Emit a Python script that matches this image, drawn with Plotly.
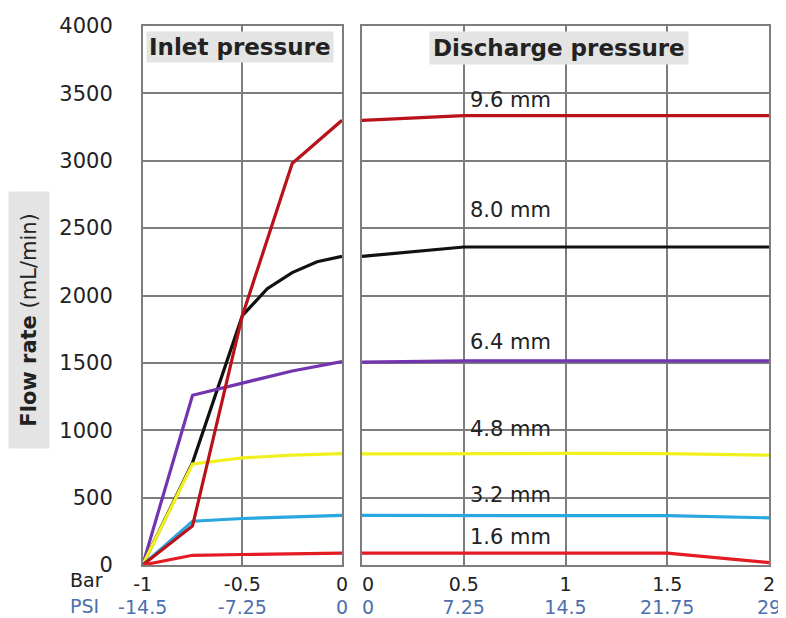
import plotly.graph_objects as go

# ---------------- data ----------------
size_labels = ["1.6 mm", "3.2 mm", "4.8 mm", "6.4 mm", "8.0 mm", "9.6 mm"]
line_colors = ["#e31b23", "#2aa7df", "#f0f01e", "#7334b0", "#111111", "#b8121b"]

# Inlet pressure (bar)
inlet_x = [-1, -0.75, -0.5, -0.25, 0]
inlet_x_8mm = [-1, -0.75, -0.5, -0.375, -0.25, -0.125, 0]
inlet_16 = [0, 72, 78, 84, 88]
inlet_32 = [0, 325, 345, 355, 368]
inlet_48 = [0, 750, 795, 815, 827]
inlet_64 = [0, 1260, 1350, 1440, 1510]
inlet_80 = [0, 760, 1850, 2050, 2170, 2250, 2290]
inlet_96 = [0, 290, 1850, 2980, 3300]

# Discharge pressure (bar)
disch_x = [0, 0.5, 1, 1.5, 2]
disch_16 = [88, 88, 88, 88, 18]
disch_32 = [368, 368, 368, 366, 350]
disch_48 = [825, 828, 828, 826, 815]
disch_64 = [1505, 1515, 1515, 1515, 1515]
disch_80 = [2290, 2360, 2360, 2360, 2360]
disch_96 = [3300, 3335, 3335, 3335, 3335]

# size-label vertical positions (flow-rate units)
label_y = [209, 522, 1007, 1657, 2634, 3448]

# tick labels
inlet_bar_ticks = [-1, -0.5, 0]
inlet_bar_text = ["-1", "-0.5", "0"]
inlet_psi_text = ["-14.5", "-7.25", "0"]
disch_bar_ticks = [0, 0.5, 1, 1.5, 2]
disch_bar_text = ["&nbsp;&nbsp;0", "0.5", "1", "1.5", "2"]
disch_psi_text = ["&nbsp;&nbsp;0", "7.25", "14.5", "21.75", "29"]
y_ticks = [0, 500, 1000, 1500, 2000, 2500, 3000, 3500, 4000]

# ---------------- figure ----------------
OFF = 8                      # page body margin
W, H = 786 - OFF, 618 - OFF
FONT = "DejaVu Sans"
GRID = "#7d7d7d"
TXT = "#222222"
PSI_COL = "#4d6fae"
XT = 19

def px_x(p):
    return (p - OFF) / W

def px_y(p):
    return 1 - (p - OFF) / H

fig = go.Figure()

inlet_series = [
    (inlet_x, inlet_16), (inlet_x, inlet_32), (inlet_x, inlet_48),
    (inlet_x, inlet_64), (inlet_x_8mm, inlet_80), (inlet_x, inlet_96),
]
disch_series = [disch_16, disch_32, disch_48, disch_64, disch_80, disch_96]

draw_order = [4, 3, 2, 1, 5, 0]
for i in draw_order:
    xs, ys = inlet_series[i]
    fig.add_trace(go.Scatter(x=xs, y=ys, mode="lines", xaxis="x", yaxis="y",
                             line=dict(color=line_colors[i], width=3.2),
                             name=size_labels[i], showlegend=False))
for i in draw_order:
    fig.add_trace(go.Scatter(x=disch_x, y=disch_series[i], mode="lines",
                             xaxis="x2", yaxis="y2",
                             line=dict(color=line_colors[i], width=3.2),
                             name=size_labels[i], showlegend=False))

ydom = [px_y(565), px_y(26)]
xdom1 = [px_x(142.7), px_x(342)]
xdom2 = [px_x(362), px_x(769)]

axis_common = dict(showline=True, mirror=True, linecolor=GRID, linewidth=1.5,
                   showgrid=True, gridcolor=GRID, gridwidth=1.5, zeroline=False,
                   automargin=False)

fig.update_layout(
    width=W, height=H,
    margin=dict(l=0, r=0, t=0, b=0, pad=0),
    paper_bgcolor="white", plot_bgcolor="white",
    font=dict(family=FONT, size=21, color=TXT),
    showlegend=False,
    xaxis=dict(domain=xdom1, range=[-1, 0], anchor="y",
               tickvals=inlet_bar_ticks, ticktext=inlet_bar_text,
               tickfont=dict(size=XT, color=TXT), ticks="",
               ticklabelstandoff=1, **axis_common),
    xaxis2=dict(domain=xdom2, range=[0, 2], anchor="y2",
                tickvals=disch_bar_ticks, ticktext=disch_bar_text,
                tickfont=dict(size=XT, color=TXT), ticks="",
                ticklabelstandoff=1, **axis_common),
    xaxis3=dict(overlaying="x", anchor="free", position=px_y(594),
                range=[-1, 0], tickvals=inlet_bar_ticks, ticktext=inlet_psi_text,
                tickfont=dict(size=XT, color=PSI_COL), ticks="", automargin=False,
                showgrid=False, showline=False, zeroline=False, side="bottom"),
    xaxis4=dict(overlaying="x2", anchor="free", position=px_y(594),
                range=[0, 2], tickvals=disch_bar_ticks, ticktext=disch_psi_text,
                tickfont=dict(size=XT, color=PSI_COL), ticks="", automargin=False,
                showgrid=False, showline=False, zeroline=False, side="bottom"),
    yaxis=dict(domain=ydom, range=[0, 4000], anchor="x",
               tickvals=y_ticks, tickfont=dict(size=21, color=TXT),
               ticks="outside", ticklen=24, tickcolor="rgba(0,0,0,0)",
               **axis_common),
    yaxis2=dict(domain=ydom, range=[0, 4000], anchor="x2",
                tickvals=y_ticks, showticklabels=False, **axis_common),
)

# invisible traces so the PSI axes render
fig.add_trace(go.Scatter(x=[-1, 0], y=[None, None], xaxis="x3", yaxis="y",
                         mode="lines", showlegend=False, hoverinfo="skip"))
fig.add_trace(go.Scatter(x=[0, 2], y=[None, None], xaxis="x4", yaxis="y2",
                         mode="lines", showlegend=False, hoverinfo="skip"))

annotations = []
# panel titles
annotations.append(dict(text="<b>Inlet pressure</b>", xref="paper", yref="paper",
                        x=px_x(146), y=px_y(47), xanchor="left", yanchor="middle",
                        showarrow=False, bgcolor="#e4e4e4", borderpad=2,
                        font=dict(family=FONT, size=23, color=TXT)))
annotations.append(dict(text="<b>Discharge pressure</b>", xref="paper", yref="paper",
                        x=px_x(559), y=px_y(48), xanchor="center", yanchor="middle",
                        showarrow=False, bgcolor="#e4e4e4", borderpad=3,
                        font=dict(family=FONT, size=23, color=TXT)))
# y-axis title
annotations.append(dict(text="&nbsp;&nbsp;<b>Flow rate</b> (mL/min)&nbsp;&nbsp;", xref="paper", yref="paper",
                        x=px_x(29), y=px_y(320), xanchor="center", yanchor="middle",
                        textangle=-90, showarrow=False, bgcolor="#e4e4e4", borderpad=8,
                        font=dict(family=FONT, size=21, color=TXT)))
# Bar / PSI row labels
annotations.append(dict(text="Bar", xref="paper", yref="paper",
                        x=px_x(86), y=px_y(580), xanchor="center", yanchor="middle",
                        showarrow=False, font=dict(family=FONT, size=XT, color=TXT)))
annotations.append(dict(text="PSI", xref="paper", yref="paper",
                        x=px_x(84), y=px_y(606), xanchor="center", yanchor="middle",
                        showarrow=False, font=dict(family=FONT, size=XT, color=PSI_COL)))
# size labels
for lbl, ly in zip(size_labels, label_y):
    annotations.append(dict(text=lbl, xref="x2", yref="y2", x=0.5, y=ly,
                            xanchor="left", yanchor="middle", xshift=4,
                            showarrow=False, font=dict(family=FONT, size=21, color=TXT)))

fig.update_layout(annotations=annotations)

fig.write_html("out.html")
